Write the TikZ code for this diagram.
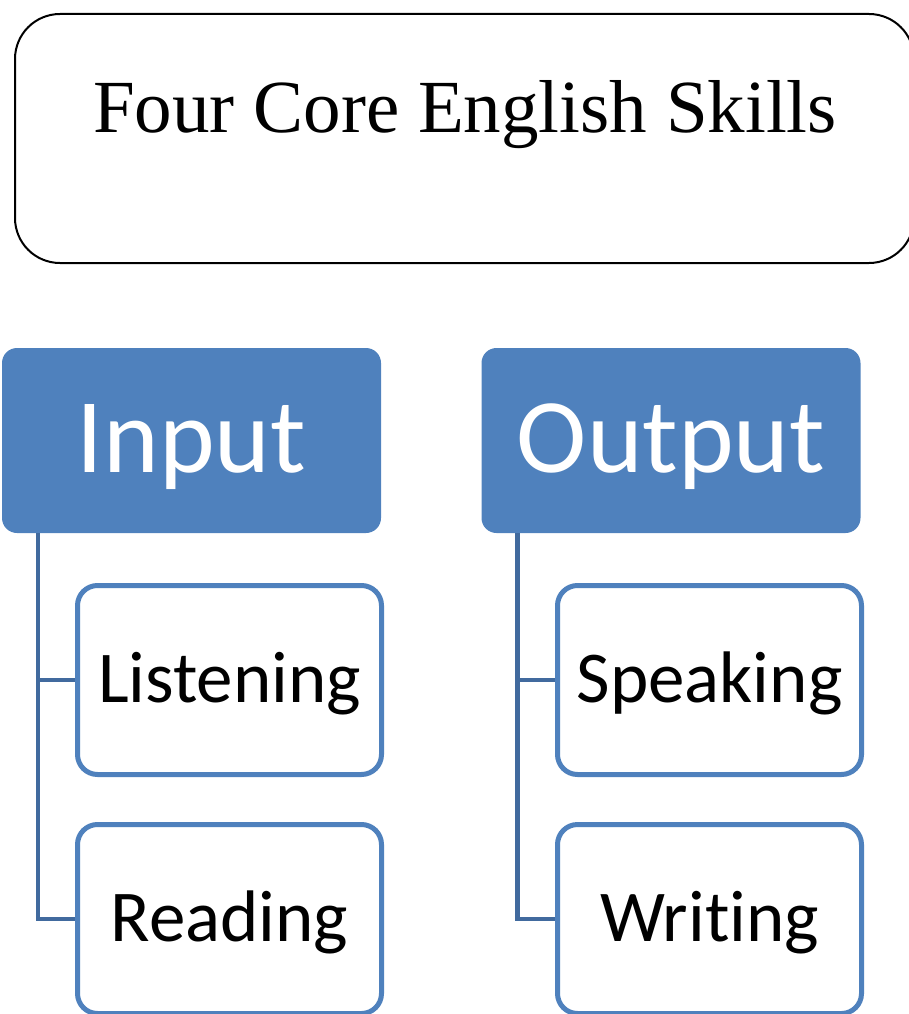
\documentclass[tikz,border=0pt]{standalone}
\usepackage{fontspec}
\setmainfont{Liberation Serif}
\newfontfamily\calib[Ligatures=NoCommon]{Carlito}
\definecolor{accfill}{RGB}{79,129,189}
\definecolor{connblue}{RGB}{65,106,158}
\begin{document}
\begin{tikzpicture}[x=1pt,y=-1pt,
  titlebox/.style={draw=black,line width=2pt,rounded corners=45pt,minimum width=899pt,minimum height=249pt,inner sep=0pt},
  headbox/.style={fill=accfill,draw=none,rounded corners=15pt,minimum width=379pt,minimum height=185pt,inner sep=0pt},
  leafbox/.style={draw=accfill,line width=5pt,fill=white,rounded corners=20pt,minimum width=304pt,minimum height=189pt,inner sep=0pt},
  headtext/.style={anchor=base,inner sep=0pt,text=white,font=\calib\fontsize{106}{120}\selectfont},
  leaftext/.style={anchor=base,inner sep=0pt,text=black,font=\calib\fontsize{73}{85}\selectfont},
  conn/.style={draw=connblue,line width=4.5pt}]
\useasboundingbox (0,0) rectangle (909,1014);
% title
\node[titlebox] (title) at (464.5,138.5) {};
\node[anchor=base,inner sep=0pt,font=\fontsize{75}{85}\selectfont] (titletext) at (465,132) {Four Core English Skills};
% heads
\node[headbox] (input) at (191.5,440.5) {};
\node[headtext] (inputtext) at ([yshift=-31.5pt]input.center) {Input};
\node[headbox] (output) at (671,440.5) {};
\node[headtext] (outputtext) at ([yshift=-31.5pt]output.center) {Output};
% connectors
\draw[conn] ([xshift=36pt]input.south west) |- (229.5,919) coordinate (inend);
\draw[conn] ([xshift=36pt]output.south west) |- (709.5,919) coordinate (outend);
% leaves
\node[leafbox] (listen) at (229.5,680) {};
\node[leaftext] (listentext) at ([yshift=-22pt]listen.center) {Listening};
\node[leafbox] (read) at (229.5,919) {};
\node[leaftext] (readtext) at ([yshift=-22pt]read.center) {Reading};
\node[leafbox] (speak) at (709.5,680) {};
\node[leaftext] (speaktext) at ([yshift=-22pt]speak.center) {Speaking};
\node[leafbox] (write) at (709.5,919) {};
\node[leaftext] (writetext) at ([yshift=-22pt]write.center) {Writing};
\draw[conn] ([xshift=36pt]input.south west |- listen.west) -- (listen.west);
\draw[conn] ([xshift=36pt]output.south west |- speak.west) -- (speak.west);
\end{tikzpicture}
\end{document}
